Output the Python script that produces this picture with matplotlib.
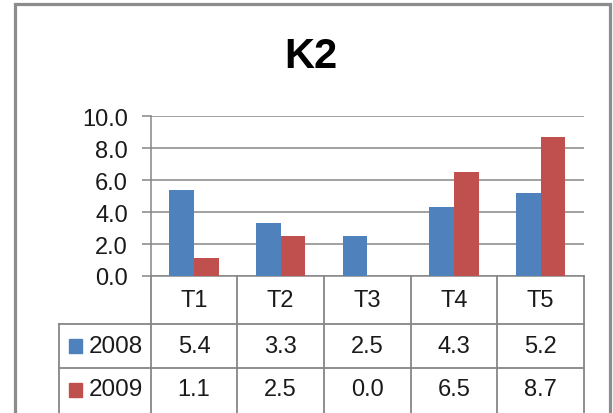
import matplotlib
matplotlib.use("Agg")
import matplotlib.pyplot as plt
from matplotlib.lines import Line2D
from matplotlib.patches import Rectangle
import numpy as np

plt.rcParams['font.family'] = ['Liberation Sans', 'DejaVu Sans']

categories = ["T1", "T2", "T3", "T4", "T5"]
series_names = ["2008", "2009"]
values_2008 = [5.4, 3.3, 2.5, 4.3, 5.2]
values_2009 = [1.1, 2.5, 0.0, 6.5, 8.7]
yticks = [0, 2, 4, 6, 8, 10]

BLUE = "#4F81BD"
RED = "#C0504D"
GRID = "#868686"
BORDER = "#8C8C8C"
TXT = "#1a1a1a"
FS = 17

W, H = 613, 414
fig = plt.figure(figsize=(W / 100, H / 100), dpi=100)

def fx(x):
    return x / W

def fy(y):
    return 1 - y / H

# plot area
x_left, x_right = 150.7, 584.0
y_top, y_bot = 117.3, 277.0
ax = fig.add_axes([fx(x_left), fy(y_bot), fx(x_right) - fx(x_left), (y_bot - y_top) / H])

x = np.arange(len(categories))
w = 1 / 3.5
ax.bar(x - w / 2, values_2008, w, color=BLUE, zorder=3)
ax.bar(x + w / 2, values_2009, w, color=RED, zorder=3)
ax.set_xlim(-0.5, len(categories) - 0.5)
ax.set_ylim(0, 10)
ax.set_yticks(yticks)
ax.set_yticklabels([f"{v:.1f}" for v in yticks], fontsize=FS, color=TXT)
ax.set_xticks([])
ax.yaxis.grid(True, color=GRID, linewidth=1.1, zorder=0)
ax.set_axisbelow(True)
ax.tick_params(axis='y', length=6.3, width=1.1, color=GRID, pad=10)
for s in ["top", "right"]:
    ax.spines[s].set_visible(False)
ax.spines["left"].set_color(GRID)
ax.spines["bottom"].set_color(GRID)
ax.spines["left"].set_linewidth(1.1)
ax.spines["bottom"].set_linewidth(1.1)

# title
fig.text(fx(311), fy(57), "K2", ha="center", va="center", fontsize=30,
         fontweight="bold", family=['Liberation Sans Narrow', 'Liberation Sans', 'DejaVu Sans'])

# data table
col_edges = np.linspace(x_left, x_right, len(categories) + 1)
row_lines = [325.0, 369.0]
bottom = 414.0
lw = 1.3

def line(x0, y0, x1, y1):
    fig.add_artist(Line2D([fx(x0), fx(x1)], [fy(y0), fy(y1)], color=GRID, linewidth=lw))

for ce in col_edges:
    line(ce, y_bot, ce, bottom)
for ry in row_lines:
    line(59, ry, x_right, ry)
line(59, row_lines[0], 59, bottom)

hdr_y = (y_bot + row_lines[0]) / 2
row_ys = [(row_lines[0] + row_lines[1]) / 2, (row_lines[1] + bottom) / 2 - 1]
centers = (col_edges[:-1] + col_edges[1:]) / 2
for cx, cat in zip(centers, categories):
    fig.text(fx(cx), fy(hdr_y), cat, ha="center", va="center", fontsize=FS, color=TXT)

for ry, name, vals, col in zip(row_ys, series_names, [values_2008, values_2009], [BLUE, RED]):
    fig.add_artist(Rectangle((fx(69), fy(ry + 7)), 13 / W, 14 / H, color=col,
                             transform=fig.transFigure))
    fig.text(fx(89), fy(ry), name, ha="left", va="center", fontsize=17.5, color=TXT)
    for cx, v in zip(centers, vals):
        fig.text(fx(cx), fy(ry), f"{v:.1f}", ha="center", va="center", fontsize=FS, color=TXT)

# outer chart border
fig.add_artist(Rectangle((fx(14.5), fy(420)), (609.5 - 14.5) / W, (420 - 5) / H,
                         fill=False, edgecolor=BORDER, linewidth=2.3, transform=fig.transFigure))

fig.savefig("out.png", dpi=100)
